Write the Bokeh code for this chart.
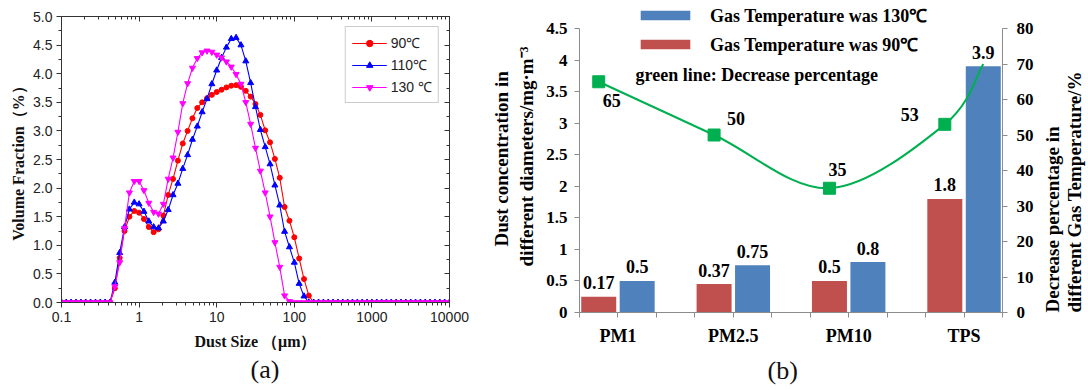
import math
from bokeh.plotting import figure
from bokeh.layouts import row
from bokeh.models import (Range1d, LinearAxis, LogAxis, FixedTicker, NumeralTickFormatter,
                          Legend, LegendItem, Label, Title, ColumnDataSource)
from bokeh.core.properties import value
from bokeh.embed import file_html
from bokeh.resources import INLINE

# ---------------- data: panel (a) ----------------
dust_size_um = [0.1, 0.115, 0.133, 0.154, 0.178, 0.205, 0.237, 0.274, 0.316, 0.365,
                0.422, 0.487, 0.562, 0.649, 0.75, 0.866, 1.0, 1.155, 1.334, 1.54,
                1.778, 2.054, 2.371, 2.738, 3.162, 3.652, 4.217, 4.87, 5.623, 6.494,
                7.499, 8.66, 10.0, 11.55, 13.34, 15.4, 17.78, 20.54, 23.71, 27.38,
                31.62, 36.52, 42.17, 48.7, 56.23, 64.94, 74.99, 86.6, 100.0, 115.5,
                133.4, 154.0, 177.8, 205.4, 237.1, 273.8, 316.2, 365.2, 421.7, 487.0,
                562.3, 649.4, 749.9, 866.0, 1000, 1155, 1334, 1540, 1778, 2054,
                2371, 2738, 3162, 3652, 4217, 4870, 5623, 6494, 7499, 8660, 10000]
vol_90C = [0, 0, 0, 0, 0, 0, 0, 0, 0, 0,
           0, 0.25, 0.78, 1.25, 1.50, 1.60, 1.57, 1.46, 1.32, 1.23,
           1.28, 1.52, 1.88, 2.16, 2.48, 2.78, 3.00, 3.22, 3.40, 3.50,
           3.57, 3.63, 3.68, 3.72, 3.76, 3.79, 3.80, 3.77, 3.70, 3.60,
           3.47, 3.28, 3.01, 2.80, 2.51, 2.18, 1.67, 1.43, 1.14, 0.77,
           0.41, 0.12, 0, 0, 0, 0, 0, 0, 0, 0,
           0, 0, 0, 0, 0, 0, 0, 0, 0, 0,
           0, 0, 0, 0, 0, 0, 0, 0, 0, 0, 0]
vol_110C = [0, 0, 0, 0, 0, 0, 0, 0, 0, 0,
            0, 0.35, 0.87, 1.32, 1.63, 1.75, 1.72, 1.59, 1.42, 1.32,
            1.30, 1.42, 1.62, 1.88, 2.08, 2.34, 2.58, 2.85, 3.08, 3.33,
            3.56, 3.82, 4.06, 4.28, 4.46, 4.61, 4.63, 4.50, 4.22, 3.84,
            3.42, 3.02, 2.72, 2.42, 2.05, 1.70, 1.24, 0.97, 0.70, 0.33,
            0.11, 0, 0, 0, 0, 0, 0, 0, 0, 0,
            0, 0, 0, 0, 0, 0, 0, 0, 0, 0,
            0, 0, 0, 0, 0, 0, 0, 0, 0, 0, 0]
vol_130C = [0, 0, 0, 0, 0, 0, 0, 0, 0, 0,
            0, 0.28, 0.70, 1.30, 1.92, 2.12, 2.12, 1.96, 1.74, 1.58,
            1.55, 1.72, 2.16, 2.53, 2.98, 3.48, 3.83, 4.10, 4.27, 4.37,
            4.40, 4.38, 4.33, 4.28, 4.21, 4.12, 3.99, 3.82, 3.50, 3.12,
            2.70, 2.30, 1.92, 1.50, 1.05, 0.62, 0.12, 0.02, 0, 0,
            0, 0, 0, 0, 0, 0, 0, 0, 0, 0,
            0, 0, 0, 0, 0, 0, 0, 0, 0, 0,
            0, 0, 0, 0, 0, 0, 0, 0, 0, 0, 0]
series_labels_a = ["90℃", "110℃", "130 ℃"]
x_ticks_a = [0.1, 1, 10, 100, 1000, 10000]
y_ticks_a = [0.0, 0.5, 1.0, 1.5, 2.0, 2.5, 3.0, 3.5, 4.0, 4.5, 5.0]

# ---------------- data: panel (b) ----------------
categories_b = ["PM1", "PM2.5", "PM10", "TPS"]
conc_90C = [0.25, 0.45, 0.5, 1.8]
conc_90C_labels = ["0.17", "0.37", "0.5", "1.8"]
conc_130C = [0.5, 0.75, 0.8, 3.9]
conc_130C_labels = ["0.5", "0.75", "0.8", "3.9"]
decrease_pct = [65, 50, 35, 53]
decrease_pct_labels = ["65", "50", "35", "53"]
decrease_curve_end = 70
left_ticks_b = [0, 0.5, 1, 1.5, 2, 2.5, 3, 3.5, 4, 4.5]
right_ticks_b = [0, 10, 20, 30, 40, 50, 60, 70, 80]

SANS = "Liberation Sans"
SERIF = "Liberation Serif"
H = 390

# ================= panel (a) =================
pa = figure(frame_width=388, frame_height=286, x_axis_type="log",
            x_range=Range1d(0.1, 10000), y_range=Range1d(0, 5),
            output_backend="svg", toolbar_location=None, frame_align=False,
            min_border_left=61, min_border_right=31, min_border_top=16, min_border_bottom=88)
pa.grid.visible = False
pa.outline_line_color = "#333333"
pa.outline_line_width = 1

minor_x = [m * 10.0 ** e for e in range(-1, 4) for m in range(2, 10)]
minor_y = [t + 0.25 for t in y_ticks_a[:-1]]

def style_axis_a(ax):
    ax.axis_line_color = "#333333"
    ax.major_tick_line_color = "#333333"
    ax.minor_tick_line_color = "#333333"
    ax.major_tick_out = 5
    ax.major_tick_in = 0
    ax.minor_tick_out = 3
    ax.minor_tick_in = 0
    ax.major_label_text_font = SANS
    ax.major_label_text_font_size = "14px"
    ax.major_label_text_color = "#222222"
    ax.axis_label_text_font = SERIF
    ax.axis_label_text_font_style = "bold"
    ax.axis_label_text_font_size = "16px"
    ax.axis_label_text_color = "#111111"

xa = pa.xaxis[0]
style_axis_a(xa)
xa.ticker = FixedTicker(ticks=x_ticks_a, minor_ticks=minor_x)
xa.formatter = NumeralTickFormatter(format="0.[0]")
xa.axis_label = "Dust Size （μm）"
xa.major_label_standoff = 4
xa.axis_label_standoff = 8

ya = pa.yaxis[0]
style_axis_a(ya)
ya.ticker = FixedTicker(ticks=y_ticks_a, minor_ticks=minor_y)
ya.formatter = NumeralTickFormatter(format="0.0")
ya.axis_label = "Volume Fraction（%）"
ya.major_label_standoff = 4
ya.axis_label_standoff = 3

top_ax = LogAxis(ticker=FixedTicker(ticks=x_ticks_a, minor_ticks=minor_x),
                 major_label_text_font_size="1px", major_label_text_color=None,
                 major_tick_in=5, major_tick_out=0,
                 minor_tick_in=3, minor_tick_out=0, major_label_standoff=0,
                 axis_line_color="#333333", major_tick_line_color="#333333",
                 minor_tick_line_color="#333333")
pa.add_layout(top_ax, "above")
right_ax = LinearAxis(ticker=FixedTicker(ticks=y_ticks_a, minor_ticks=minor_y),
                      major_label_text_font_size="1px", major_label_text_color=None,
                      major_tick_in=5, major_tick_out=0,
                      minor_tick_in=3, minor_tick_out=0, major_label_standoff=0,
                      axis_line_color="#333333", major_tick_line_color="#333333",
                      minor_tick_line_color="#333333")
pa.add_layout(right_ax, "right")

src_a = ColumnDataSource(dict(x=dust_size_um, v90=vol_90C, v110=vol_110C, v130=vol_130C))
specs = [("v90", "#FF0000", "circle", 5), ("v110", "#0000FF", "triangle", 6),
         ("v130", "#FF00FF", "inverted_triangle", 6)]
items_a = []
for (col, color, marker, size), lab in zip(specs, series_labels_a):
    ln = pa.line("x", col, source=src_a, line_color=color, line_width=1.1)
    sc = pa.scatter("x", col, source=src_a, marker=marker, size=size,
                    fill_color=color, line_color=color)
    items_a.append(LegendItem(label=lab, renderers=[ln, sc]))

leg_a = Legend(items=items_a, location="top_right", margin=10, padding=6, spacing=3,
               glyph_width=35, glyph_height=16, label_height=16, label_standoff=4,
               label_text_font=SANS, label_text_font_size="14px", label_text_color="#222222",
               border_line_color="#9a9a9a", border_line_width=1, background_fill_alpha=1)
pa.add_layout(leg_a)

pa.add_layout(Title(text="(a)", align="left", offset=189, standoff=1,
                    text_font=SERIF, text_font_size="26px", text_font_style="normal",
                    text_color="#111111"), "below")

# ================= panel (b) =================
FB_BOTTOM = 78
frame_h = H - FB_BOTTOM
top_pad = 28
y_end = left_ticks_b[-1] * frame_h / (frame_h - top_pad)
pct_end = right_ticks_b[-1] * frame_h / (frame_h - top_pad)
n_cat = len(categories_b)
n_slots = 3 * n_cat - 1

pb = figure(frame_width=423, frame_height=frame_h,
            x_range=Range1d(0, n_slots), y_range=Range1d(0, y_end),
            output_backend="svg", toolbar_location=None, frame_align=False,
            min_border_left=99, min_border_right=38, min_border_top=0,
            min_border_bottom=FB_BOTTOM)
pb.grid.visible = False
pb.outline_line_color = None
pb.extra_y_ranges = {"pct": Range1d(0, pct_end)}

GRAY = "#8C8C8C"

def style_axis_b(ax, size="17px"):
    ax.axis_line_color = GRAY
    ax.major_tick_line_color = GRAY
    ax.minor_tick_line_color = None
    ax.major_tick_out = 5
    ax.major_tick_in = 0
    ax.major_label_text_font = SERIF
    ax.major_label_text_font_style = "bold"
    ax.major_label_text_font_size = size
    ax.major_label_text_color = "#000000"
    ax.axis_label_text_font = SERIF
    ax.axis_label_text_font_style = "bold"
    ax.axis_label_text_font_size = "19px"
    ax.axis_label_text_color = "#000000"

xb = pb.xaxis[0]
style_axis_b(xb, "18px")
xb.ticker = FixedTicker(ticks=list(range(n_slots + 1)))
overrides = {i: "" for i in range(n_slots + 1)}
for i, c in enumerate(categories_b):
    overrides[3 * i + 1] = c
xb.major_label_overrides = overrides
xb.major_label_standoff = 8

yb = pb.yaxis[0]
style_axis_b(yb)
yb.ticker = FixedTicker(ticks=left_ticks_b)
yb.formatter = NumeralTickFormatter(format="0.[0]")
yb.bounds = (0, left_ticks_b[-1])
yb.major_label_standoff = 7
yb.axis_label = "Dust concentration  in\ndifferent diameters/mg·m⁻³"
yb.axis_label_standoff = 6

rb = LinearAxis(y_range_name="pct", ticker=FixedTicker(ticks=right_ticks_b),
                bounds=(0, right_ticks_b[-1]))
style_axis_b(rb)
rb.major_label_standoff = 9
pb.add_layout(rb, "right")

red_x = [3 * i + 0.5 for i in range(n_cat)]
blue_x = [3 * i + 1.5 for i in range(n_cat)]
RED = "#C0504D"
BLUE = "#4F81BD"
GREEN = "#00B050"

red_r = pb.vbar(x=red_x, top=conc_90C, width=0.91, fill_color=RED, line_color=None)
blue_r = pb.vbar(x=blue_x, top=conc_130C, width=0.91, fill_color=BLUE, line_color=None)

txt_kw = dict(text_font=value(SERIF), text_font_style="bold", text_font_size="18px",
              text_color="#000000", text_align="center")
pb.text(x=red_x, y=conc_90C, text=conc_90C_labels, y_offset=-14,
        text_baseline="alphabetic", **txt_kw)
pb.text(x=blue_x, y=conc_130C, text=conc_130C_labels, y_offset=-14,
        text_baseline="alphabetic", **txt_kw)

# smooth (Catmull-Rom / Excel-like) green curve through the percentage points
px = red_x + [blue_x[-1]]
py = decrease_pct + [decrease_curve_end]
n = len(px)
bz = dict(x0=[], y0=[], x1=[], y1=[], cx0=[], cy0=[], cx1=[], cy1=[])
for i in range(n - 1):
    i0 = max(i - 1, 0)
    i3 = min(i + 2, n - 1)
    bz["x0"].append(px[i]); bz["y0"].append(py[i])
    bz["x1"].append(px[i + 1]); bz["y1"].append(py[i + 1])
    bz["cx0"].append(px[i] + (px[i + 1] - px[i0]) / 6.0)
    bz["cy0"].append(py[i] + (py[i + 1] - py[i0]) / 6.0)
    bz["cx1"].append(px[i + 1] - (px[i3] - px[i]) / 6.0)
    bz["cy1"].append(py[i + 1] - (py[i3] - py[i]) / 6.0)
pb.bezier(source=ColumnDataSource(bz), x0="x0", y0="y0", x1="x1", y1="y1",
          cx0="cx0", cy0="cy0", cx1="cx1", cy1="cy1",
          line_color=GREEN, line_width=2, y_range_name="pct")
pb.scatter(x=red_x, y=decrease_pct, marker="square", size=12,
           fill_color=GREEN, line_color=GREEN, y_range_name="pct")
pct_dx = [13, 22, 8, -35]
pct_dy = [19, -17, -19, -10]
pb.text(x=red_x, y=decrease_pct, text=decrease_pct_labels, x_offset=pct_dx, y_offset=pct_dy,
        text_baseline="middle", y_range_name="pct", **txt_kw)

leg_b = Legend(items=[LegendItem(label="Gas Temperature was 130℃", renderers=[blue_r]),
                      LegendItem(label="Gas Temperature was 90℃", renderers=[red_r])],
               location=(55, 256), glyph_width=62, glyph_height=12, label_height=21,
               label_standoff=14, spacing=5, padding=0, margin=0,
               label_text_font=SERIF, label_text_font_style="bold",
               label_text_font_size="18px", label_text_color="#000000",
               border_line_color=None, background_fill_alpha=0)
pb.add_layout(leg_b)

pb.add_layout(Label(x=56, y=frame_h - 74, x_units="screen", y_units="screen",
                    text="green line: Decrease percentage", text_font=SERIF,
                    text_font_style="bold", text_color="#000000",
                    text_font_size="18px", text_align="left", text_baseline="middle"))
pb.add_layout(Title(text="(b)", align="left", offset=188, standoff=10,
                    text_font=SERIF, text_font_size="26px", text_font_style="normal",
                    text_color="#111111"), "below")

# ================= right-hand title strip for panel (b) =================
pc = figure(width=48, height=H, x_range=Range1d(0, 1), y_range=Range1d(0, 1),
            output_backend="svg", toolbar_location=None, frame_align=False,
            x_axis_location=None, y_axis_location=None,
            min_border_left=0, min_border_right=0, min_border_top=0, min_border_bottom=0)
pc.grid.visible = False
pc.outline_line_color = None
title_kw = dict(x_units="screen", y_units="screen", angle=math.pi / 2, text_font=SERIF,
                text_font_style="bold", text_font_size="19px", text_color="#000000",
                text_align="left", text_baseline="middle")
pc.add_layout(Label(x=12, y=FB_BOTTOM, text="Decrease percentage in", **title_kw))
pc.add_layout(Label(x=34, y=FB_BOTTOM, text="different Gas Temperature/%", **title_kw))

layout = row(pa, pb, pc)
open("out.html", "w").write(file_html(layout, INLINE))
